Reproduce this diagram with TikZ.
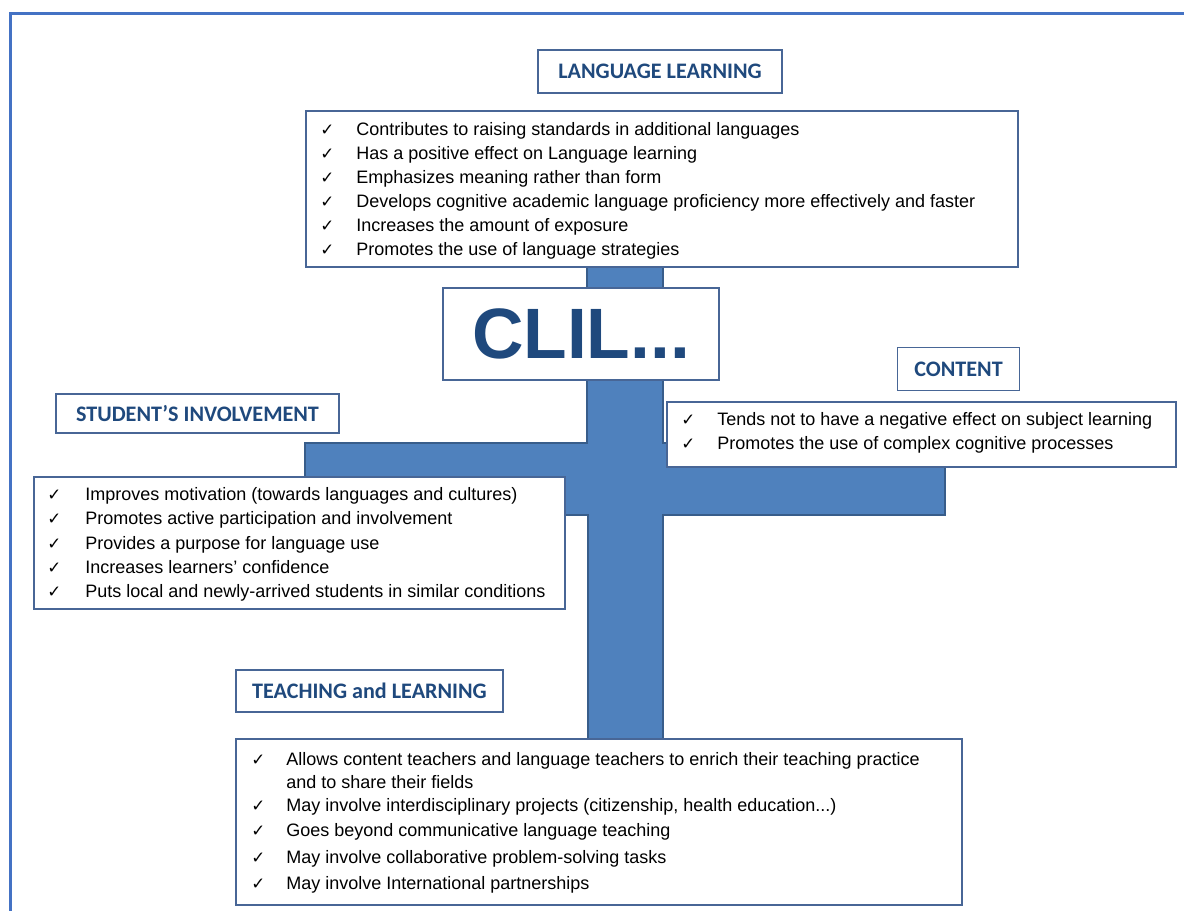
\documentclass[tikz,border=0pt]{standalone}
\usepackage{fontspec}
\setmainfont{Liberation Sans}
\newfontfamily\titlefont{Carlito}
\newfontfamily\symfont{DejaVu Sans}
\definecolor{framec}{RGB}{68,114,196}
\definecolor{crossfill}{RGB}{79,129,189}
\definecolor{crossline}{RGB}{56,93,138}
\definecolor{boxline}{RGB}{72,102,150}
\definecolor{titletext}{RGB}{31,73,125}
\newcommand{\chk}{{\symfont\fontsize{12.5pt}{12pt}\selectfont ✓}}
\tikzset{
  box/.style={draw=boxline, line width=1.1pt, fill=white, inner sep=0pt},
  titlebox/.style={box, font=\titlefont\bfseries\fontsize{16.6pt}{18pt}\selectfont, text=titletext},
  item/.style={anchor=base west, inner sep=0pt, font=\fontsize{13.5pt}{15pt}\selectfont},
  chkmark/.style={anchor=base west, inner sep=0pt},
}
\begin{document}
\begin{tikzpicture}[x=0.75pt,y=-0.75pt]
\useasboundingbox (0,0) rectangle (1184,911);
\fill[white] (0,0) rectangle (1184,911);
% outer frame
\draw[framec, line width=2.3pt] (1184,13.5) -- (10.5,13.5) -- (10.5,911);
% cross
\draw[crossline, fill=crossfill, line width=1.6pt]
  (587,258) -- (663,258) -- (663,443) -- (945,443) -- (945,515) -- (663,515)
  -- (663,740) -- (588,740) -- (588,515) -- (305,515) -- (305,443) -- (587,443) -- cycle;

% LANGUAGE LEARNING
\node[titlebox, minimum width=244*0.75pt, minimum height=43*0.75pt] (lltitle) at (660,71.5) {LANGUAGE LEARNING};
\node[box, minimum width=712*0.75pt, minimum height=156*0.75pt] (llbox) at (662,189) {};
\node[chkmark] (llc1) at (320,135) {\chk};
\node[item] (ll1) at (356,135) {Contributes to raising standards in additional languages};
\node[chkmark] (llc2) at (320,159) {\chk};
\node[item] (ll2) at (356,159) {Has a positive effect on Language learning};
\node[chkmark] (llc3) at (320,183) {\chk};
\node[item] (ll3) at (356,183) {Emphasizes meaning rather than form};
\node[chkmark] (llc4) at (320,207) {\chk};
\node[item] (ll4) at (356,207) {Develops cognitive academic language proficiency more effectively and faster};
\node[chkmark] (llc5) at (320,231) {\chk};
\node[item] (ll5) at (356,231) {Increases the amount of exposure};
\node[chkmark] (llc6) at (320,255) {\chk};
\node[item] (ll6) at (356,255) {Promotes the use of language strategies};

% CLIL
\node[box, minimum width=276*0.75pt, minimum height=92*0.75pt, text=titletext,
  font=\bfseries\fontsize{53.5pt}{58pt}\selectfont] (clil) at (581,334) {CLIL...};

% CONTENT
\node[titlebox, minimum width=122*0.75pt, minimum height=43*0.75pt] (cttitle) at (958.5,369) {CONTENT};
\node[box, minimum width=509*0.75pt, minimum height=65*0.75pt] (ctbox) at (921.5,434.5) {};
\node[chkmark] (ctc1) at (681,425) {\chk};
\node[item] (ct1) at (717,425) {Tends not to have a negative effect on subject learning};
\node[chkmark] (ctc2) at (681,449) {\chk};
\node[item] (ct2) at (717,449) {Promotes the use of complex cognitive processes};

% STUDENT'S INVOLVEMENT
\node[titlebox, minimum width=283*0.75pt, minimum height=39*0.75pt] (sititle) at (197.5,413.5) {STUDENT’S INVOLVEMENT};
\node[box, minimum width=531*0.75pt, minimum height=132*0.75pt] (sibox) at (299.5,543) {};
\node[chkmark] (sic1) at (47,500) {\chk};
\node[item] (si1) at (85,500) {Improves motivation (towards languages and cultures)};
\node[chkmark] (sic2) at (47,524) {\chk};
\node[item] (si2) at (85,524) {Promotes active participation and involvement};
\node[chkmark] (sic3) at (47,549) {\chk};
\node[item] (si3) at (85,549) {Provides a purpose for language use};
\node[chkmark] (sic4) at (47,573) {\chk};
\node[item] (si4) at (85,573) {Increases learners’ confidence};
\node[chkmark] (sic5) at (47,597) {\chk};
\node[item] (si5) at (85,597) {Puts local and newly-arrived students in similar conditions};

% TEACHING and LEARNING
\node[titlebox, minimum width=267*0.75pt, minimum height=42*0.75pt] (tltitle) at (369.5,691) {TEACHING and LEARNING};
\node[box, minimum width=726*0.75pt, minimum height=166*0.75pt] (tlbox) at (599,822) {};
\node[chkmark] (tlc1) at (251,765) {\chk};
\node[item] (tl1) at (286,765) {Allows content teachers and language teachers to enrich their teaching practice};
\node[item] (tl1b) at (286,788) {and to share their fields};
\node[chkmark] (tlc2) at (251,811) {\chk};
\node[item] (tl2) at (286,811) {May involve interdisciplinary projects (citizenship, health education...)};
\node[chkmark] (tlc3) at (251,836) {\chk};
\node[item] (tl3) at (286,836) {Goes beyond communicative language teaching};
\node[chkmark] (tlc4) at (251,863) {\chk};
\node[item] (tl4) at (286,863) {May involve collaborative problem-solving tasks};
\node[chkmark] (tlc5) at (251,889) {\chk};
\node[item] (tl5) at (286,889) {May involve International partnerships};
\end{tikzpicture}
\end{document}
